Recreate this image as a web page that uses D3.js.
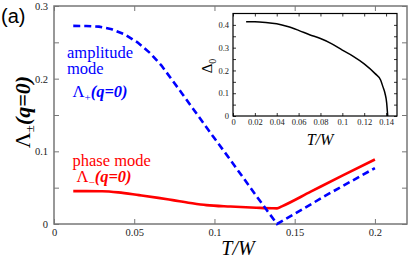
<!DOCTYPE html>
<html>
<head>
<meta charset="utf-8">
<script src="https://cdn.jsdelivr.net/npm/d3@7"></script>
<style>
  body { margin: 0; background: #fff; }
  svg { display: block; }
</style>
</head>
<body>
<div class="chart"></div>
<script>
// amplitude mode, Lambda_+(q=0)
const ampT = [0.012, 0.02, 0.028, 0.036, 0.044, 0.052, 0.06, 0.067, 0.074, 0.08, 0.096, 0.11, 0.125, 0.139, 0.15, 0.17, 0.2];
const ampV = [0.2726, 0.2725, 0.2716, 0.268, 0.261, 0.250, 0.235, 0.218, 0.197, 0.179, 0.130, 0.088, 0.042, 0.0, 0.014, 0.040, 0.077];

// phase mode, Lambda_-(q=0)
const phaseT = [0.012, 0.02, 0.03, 0.04, 0.053, 0.065, 0.074, 0.085, 0.095, 0.11, 0.126, 0.136, 0.139, 0.142, 0.16, 0.18, 0.2];
const phaseV = [0.0452, 0.0452, 0.045, 0.0435, 0.0397, 0.036, 0.0329, 0.029, 0.026, 0.024, 0.0224, 0.0216, 0.0215, 0.0243, 0.0445, 0.0669, 0.0888];

// inset: gap Delta_0 vs T/W
const gapT = [0.012, 0.02, 0.03, 0.04, 0.05, 0.06, 0.07, 0.08, 0.09, 0.1, 0.11, 0.12, 0.13, 0.135, 0.137, 0.139, 0.1405, 0.1415];
const gapV = [0.414, 0.414, 0.411, 0.405, 0.393, 0.376, 0.357, 0.34, 0.318, 0.289, 0.262, 0.229, 0.186, 0.158, 0.13, 0.1, 0.06, 0.0];

const mainXTicks = [0, 0.05, 0.1, 0.15, 0.2];
const mainYTicks = [0, 0.05, 0.1, 0.15, 0.2, 0.25, 0.3];
const insetXTicks = [0, 0.02, 0.04, 0.06, 0.08, 0.1, 0.12, 0.14];
const insetYTicks = [0, 0.05, 0.1, 0.15, 0.2, 0.25, 0.3, 0.35, 0.4];

const width = 409, height = 258;
const serif = "'Liberation Serif', 'Times New Roman', serif";

const svg = d3.select(".chart").append("svg")
  .attr("width", width)
  .attr("height", height)
  .attr("font-family", serif);

// ---------- main panel ----------
const x = d3.scaleLinear().domain([0, 0.22]).range([54, 407]);
const y = d3.scaleLinear().domain([0, 0.3]).range([224, 6]);

const frameColor = "#777";
const onTenth = d => Math.abs(d * 10 - Math.round(d * 10)) < 1e-9;

const gBottom = svg.append("g")
  .attr("transform", `translate(0,${y.range()[0]})`)
  .call(d3.axisBottom(x).tickValues(mainXTicks).tickSize(-5).tickPadding(5).tickFormat(d3.format("~g")));
const gTop = svg.append("g")
  .attr("transform", `translate(0,${y.range()[1]})`)
  .call(d3.axisTop(x).tickValues(mainXTicks).tickSize(-5).tickFormat(""));
const gLeft = svg.append("g")
  .attr("transform", `translate(${x.range()[0]},0)`)
  .call(d3.axisLeft(y).tickValues(mainYTicks).tickSize(-5).tickPadding(6)
    .tickFormat(d => onTenth(d) ? d3.format("~g")(d) : ""));
const gRight = svg.append("g")
  .attr("transform", `translate(${x.range()[1]},0)`)
  .call(d3.axisRight(y).tickValues(mainYTicks).tickSize(-5).tickFormat(""));

[gBottom, gTop, gLeft, gRight].forEach(g => {
  g.attr("font-family", serif);
  g.select(".domain").remove();
  g.selectAll(".tick line").attr("stroke", frameColor).attr("stroke-width", 1);
  g.selectAll(".tick text").attr("fill", "#222").style("font-size", "10.5px");
});

svg.append("rect")
  .attr("x", x.range()[0]).attr("y", y.range()[1])
  .attr("width", x.range()[1] - x.range()[0])
  .attr("height", y.range()[0] - y.range()[1])
  .attr("fill", "none")
  .attr("stroke", frameColor)
  .attr("stroke-width", 1.5);

const ampData = ampT.map((t, i) => [t, ampV[i]]);
const phaseData = phaseT.map((t, i) => [t, phaseV[i]]);

svg.append("path")
  .attr("d", d3.line().x(d => x(d[0])).y(d => y(d[1])).curve(d3.curveMonotoneX)(phaseData))
  .attr("fill", "none")
  .attr("stroke", "#ff0000")
  .attr("stroke-width", 2.6);

svg.append("path")
  .attr("d", d3.line().x(d => x(d[0])).y(d => y(d[1]))(ampData))
  .attr("fill", "none")
  .attr("stroke", "#0000ff")
  .attr("stroke-width", 2.6)
  .attr("stroke-dasharray", "7,4");

// axis titles
svg.append("text")
  .attr("x", 238).attr("y", 255)
  .attr("text-anchor", "middle")
  .style("font-family", serif)
  .style("font-size", "20px").style("font-style", "italic")
  .text("T/W");

const yTitle = svg.append("text")
  .attr("transform", "translate(30,112) rotate(-90)")
  .attr("text-anchor", "middle")
  .style("font-family", serif)
  .style("font-size", "22px");
yTitle.append("tspan").text("Λ");
yTitle.append("tspan").attr("baseline-shift", "-4").style("font-size", "13px").text("±");
yTitle.append("tspan").style("font-weight", "bold").style("font-style", "italic").text("(q=0)");

svg.append("text")
  .attr("x", 1).attr("y", 23)
  .style("font-family", "'Liberation Sans', Arial, sans-serif")
  .style("font-size", "20px")
  .text("(a)");

// mode labels
const lbl = (tx, ty, col, s) => svg.append("text").attr("x", tx).attr("y", ty)
  .attr("fill", col).style("font-family", serif).style("font-size", "16.5px").text(s);
lbl(67, 58, "#0000ff", "amplitude");
lbl(67, 74, "#0000ff", "mode");
lbl(72.5, 166, "#ff0000", "phase mode");

const lam = (tx, ty, col, sub) => {
  const t = svg.append("text").attr("x", tx).attr("y", ty).attr("fill", col)
    .style("font-family", serif).style("font-size", "16.5px");
  t.append("tspan").text("Λ");
  t.append("tspan").attr("baseline-shift", "-4").style("font-size", "11px").text(sub);
  t.append("tspan").style("font-weight", "bold").style("font-style", "italic").text("(q=0)");
};
lam(72.5, 96.5, "#0000ff", "+");
lam(76.5, 182, "#ff0000", "−");

// ---------- inset ----------
const ix = d3.scaleLinear().domain([0, 0.15]).range([233, 397]);
const iy = d3.scaleLinear().domain([0, 0.45]).range([116, 13.5]);

svg.append("rect")
  .attr("x", ix.range()[0]).attr("y", iy.range()[1])
  .attr("width", ix.range()[1] - ix.range()[0])
  .attr("height", iy.range()[0] - iy.range()[1])
  .attr("fill", "#fff")
  .attr("stroke", "#000")
  .attr("stroke-width", 1.2);

const iBottom = svg.append("g")
  .attr("transform", `translate(0,${iy.range()[0]})`)
  .call(d3.axisBottom(ix).tickValues(insetXTicks).tickSize(-3).tickPadding(3).tickFormat(d3.format("~g")));
const iTop = svg.append("g")
  .attr("transform", `translate(0,${iy.range()[1]})`)
  .call(d3.axisTop(ix).tickValues(insetXTicks).tickSize(-3).tickFormat(""));
const iLeft = svg.append("g")
  .attr("transform", `translate(${ix.range()[0]},0)`)
  .call(d3.axisLeft(iy).tickValues(insetYTicks).tickSize(-3).tickPadding(4)
    .tickFormat(d => onTenth(d) ? d3.format("~g")(d) : ""));
const iRight = svg.append("g")
  .attr("transform", `translate(${ix.range()[1]},0)`)
  .call(d3.axisRight(iy).tickValues(insetYTicks).tickSize(-3).tickFormat(""));

[iBottom, iTop, iLeft, iRight].forEach(g => {
  g.attr("font-family", serif);
  g.select(".domain").remove();
  g.selectAll(".tick line").attr("stroke", "#000").attr("stroke-width", 0.8);
  g.selectAll(".tick text").attr("fill", "#222").style("font-size", "8.5px");
});

const gapData = gapT.map((t, i) => [t, gapV[i]]);
svg.append("path")
  .attr("d", d3.line().x(d => ix(d[0])).y(d => iy(d[1])).curve(d3.curveMonotoneX)(gapData))
  .attr("fill", "none")
  .attr("stroke", "#000")
  .attr("stroke-width", 1.5);

svg.append("text")
  .attr("x", 320).attr("y", 145)
  .attr("text-anchor", "middle")
  .style("font-family", serif)
  .style("font-size", "16px").style("font-style", "italic")
  .text("T/W");

const dTitle = svg.append("text")
  .attr("transform", "translate(212,66) rotate(-90)")
  .attr("text-anchor", "middle")
  .style("font-family", serif)
  .style("font-size", "15px");
dTitle.append("tspan").text("Δ");
dTitle.append("tspan").attr("baseline-shift", "-4").style("font-size", "10px").text("0");
</script>
</body>
</html>
